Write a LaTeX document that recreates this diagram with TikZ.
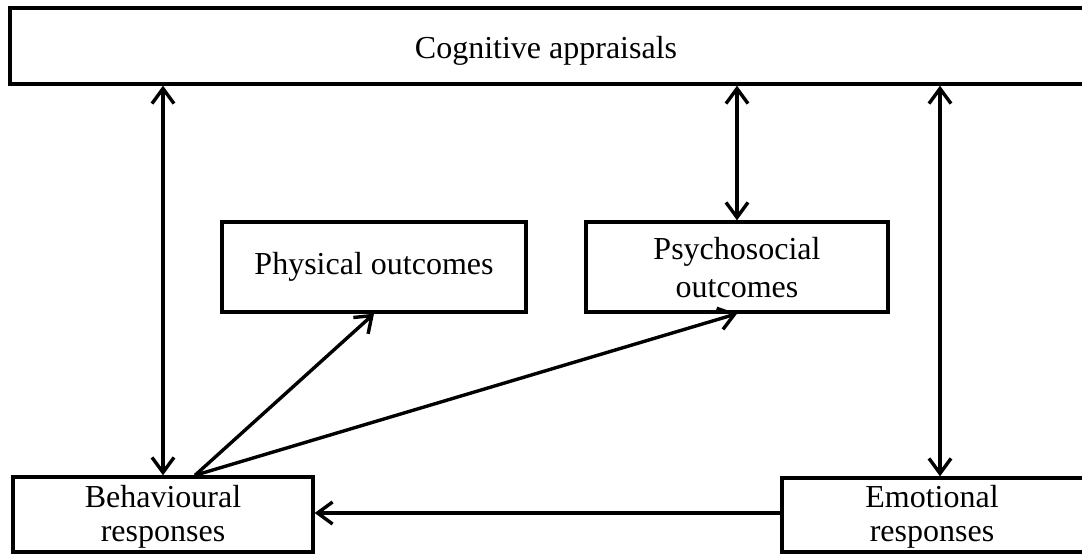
\documentclass[tikz,border=0pt]{standalone}
\usepackage{fontspec}
\setmainfont{Liberation Serif}
\usetikzlibrary{arrows.meta}
\begin{document}
\begin{tikzpicture}[x=1pt,y=-1pt,
  box/.style={draw,line width=3.4pt,inner sep=0pt,rectangle},
  txt/.style={inner sep=0pt,align=center,font=\fontsize{32}{38}\selectfont},
  txtb/.style={inner sep=0pt,align=center,font=\fontsize{32}{34}\selectfont},
  tip/.tip={Straight Barb[length=15pt,width=22pt,line join=miter]},
  arr/.style={line width=3.4pt,-tip},
  darr/.style={line width=3.4pt,tip-tip}]
\useasboundingbox (0,0) rectangle (1082,554);
% boxes
\node[box,minimum width=1078pt,minimum height=76pt] (cog) at (549,46) {};
\node[txt,anchor=base] (cogt) at (546,58) {Cognitive appraisals};
\node[box,minimum width=304pt,minimum height=90pt] (phys) at (374,267) {};
\node[txt] (physt) at (374,267) {Physical outcomes};
\node[box,minimum width=302pt,minimum height=90pt] (psy) at (737,267) {};
\node[txt,anchor=base] (psyt) at (737,297) {Psychosocial\\outcomes};
\node[box,minimum width=300pt,minimum height=75pt] (beh) at (163,514.5) {};
\node[txtb,anchor=base] (beht) at (163,541) {Behavioural\\responses};
\node[box,minimum width=306pt,minimum height=74pt] (emo) at (935,515) {};
\node[txtb,anchor=base] (emot) at (932,541) {Emotional\\responses};
% connectors
\draw[darr] (cog.south -| beh.north) -- (beh.north);
\draw[darr] (cog.south -| psy.north) -- (psy.north);
\coordinate (emotop) at ([xshift=5pt]emo.north);
\draw[darr] (cog.south -| emotop) -- (emotop);
\coordinate (behstart) at ([xshift=32pt]beh.north);
\draw[arr] (behstart) -- (phys.south);
\draw[arr] (behstart) -- (psy.south);
\coordinate (emoleft) at ([yshift=2pt]emo.west);
\draw[arr] (emoleft) -- (emoleft -| beh.east);
\end{tikzpicture}
\end{document}
